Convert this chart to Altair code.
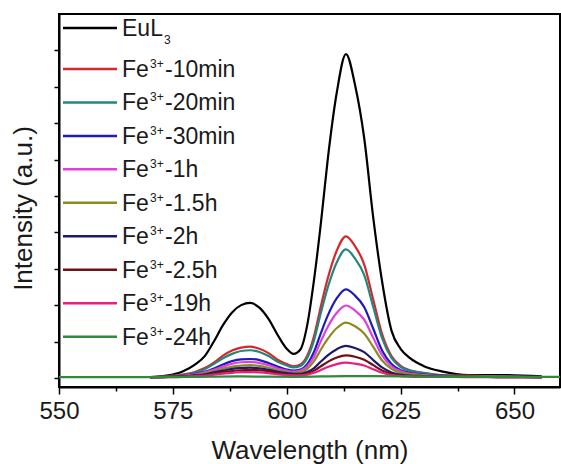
import altair as alt
import pandas as pd

# Shared wavelength grid (nm) for the spectra
WAVE = [570, 574, 577, 580, 582, 584, 586, 588, 590, 592, 594, 596, 598, 600, 601.5, 603,
        604.5, 606, 607.5, 609, 611, 613, 615, 617, 619, 621, 623, 625, 627, 630, 634, 640, 648, 656]

EUL3 = [0.02, 0.07, 0.17, 0.38, 0.60, 1.00, 1.45, 1.80, 2.00, 2.06, 1.93, 1.62, 1.18, 0.80, 0.66, 0.78,
        1.45, 2.70, 4.25, 6.00, 7.85, 8.90, 8.05, 6.60, 4.40, 2.60, 1.30, 0.80, 0.55, 0.33, 0.18, 0.08, 0.08, 0.04]
FE_10MIN = [0.02, 0.05, 0.09, 0.17, 0.27, 0.42, 0.61, 0.75, 0.83, 0.86, 0.80, 0.68, 0.50, 0.38, 0.32, 0.37,
            0.61, 1.15, 1.97, 2.73, 3.50, 3.89, 3.62, 3.12, 2.15, 1.18, 0.60, 0.33, 0.21, 0.14, 0.08, 0.06, 0.04, 0.02]
FE_20MIN = [0.02, 0.04, 0.08, 0.15, 0.24, 0.38, 0.54, 0.66, 0.74, 0.76, 0.71, 0.60, 0.44, 0.34, 0.29, 0.33,
            0.55, 1.04, 1.79, 2.48, 3.18, 3.53, 3.28, 2.83, 1.95, 1.07, 0.55, 0.30, 0.20, 0.13, 0.07, 0.05, 0.04, 0.02]
FE_30MIN = [0.02, 0.03, 0.06, 0.11, 0.17, 0.26, 0.37, 0.46, 0.51, 0.52, 0.49, 0.41, 0.31, 0.23, 0.20, 0.23,
            0.38, 0.72, 1.23, 1.71, 2.19, 2.43, 2.26, 1.95, 1.35, 0.74, 0.38, 0.21, 0.14, 0.09, 0.06, 0.04, 0.03, 0.02]
FE_1H = [0.02, 0.03, 0.05, 0.10, 0.15, 0.22, 0.31, 0.39, 0.43, 0.44, 0.41, 0.35, 0.26, 0.20, 0.17, 0.20,
         0.32, 0.59, 1.01, 1.40, 1.79, 1.99, 1.85, 1.60, 1.10, 0.61, 0.32, 0.18, 0.12, 0.08, 0.05, 0.04, 0.03, 0.02]
FE_1_5H = [0.02, 0.03, 0.05, 0.08, 0.12, 0.18, 0.25, 0.31, 0.34, 0.35, 0.33, 0.28, 0.21, 0.16, 0.14, 0.15,
           0.25, 0.46, 0.78, 1.07, 1.37, 1.52, 1.42, 1.22, 0.85, 0.47, 0.25, 0.14, 0.10, 0.07, 0.04, 0.04, 0.03, 0.02]
FE_2H = [0.02, 0.03, 0.04, 0.07, 0.10, 0.15, 0.20, 0.25, 0.27, 0.28, 0.26, 0.22, 0.17, 0.13, 0.11, 0.11,
         0.16, 0.27, 0.45, 0.62, 0.79, 0.88, 0.82, 0.71, 0.49, 0.28, 0.15, 0.09, 0.06, 0.05, 0.03, 0.03, 0.02, 0.02]
FE_2_5H = [0.02, 0.03, 0.04, 0.06, 0.08, 0.12, 0.16, 0.19, 0.21, 0.22, 0.21, 0.18, 0.13, 0.10, 0.09, 0.09,
           0.12, 0.20, 0.32, 0.44, 0.56, 0.62, 0.58, 0.50, 0.35, 0.20, 0.11, 0.07, 0.05, 0.04, 0.03, 0.03, 0.02, 0.02]
FE_19H = [0.02, 0.02, 0.03, 0.05, 0.06, 0.09, 0.12, 0.14, 0.16, 0.16, 0.15, 0.13, 0.10, 0.08, 0.07, 0.07,
          0.09, 0.14, 0.22, 0.30, 0.38, 0.42, 0.39, 0.34, 0.24, 0.14, 0.08, 0.05, 0.04, 0.03, 0.03, 0.02, 0.02, 0.02]

# The 24 h trace spans the whole range
WAVE_24H = [550, 570, 590, 602, 613, 625, 640, 660]
FE_24H = [0.02, 0.02, 0.04, 0.03, 0.05, 0.04, 0.03, 0.03]

SERIES = ["EuL3", "10min", "20min", "30min", "1h", "1.5h", "2h", "2.5h", "19h", "24h"]
COLORS = ["#000000", "#d8262b", "#23877d", "#1c1cb8", "#e03ee0", "#8c8c1e",
          "#1a1a6e", "#6e1216", "#e81e80", "#2e8b3a"]
LEGEND_BASE = ["EuL", "Fe", "Fe", "Fe", "Fe", "Fe", "Fe", "Fe", "Fe", "Fe"]
LEGEND_SCRIPT = ["3", "3+", "3+", "3+", "3+", "3+", "3+", "3+", "3+", "3+"]
LEGEND_REST = ["", "-10min", "-20min", "-30min", "-1h", "-1.5h", "-2h", "-2.5h", "-19h", "-24h"]

X_TICKS = [550, 562.5, 575, 587.5, 600, 612.5, 625, 637.5, 650]
Y_TICKS = [0, 1, 2, 3, 4, 5, 6, 7, 8, 9]

FONT = "Liberation Sans"

rows = []
spectra = [EUL3, FE_10MIN, FE_20MIN, FE_30MIN, FE_1H, FE_1_5H, FE_2H, FE_2_5H, FE_19H]
for i, vals in enumerate(spectra):
    for w, v in zip(WAVE, vals):
        rows.append({"series": SERIES[i], "wl": w, "v": v})
for w, v in zip(WAVE_24H, FE_24H):
    rows.append({"series": SERIES[9], "wl": w, "v": v})
df = pd.DataFrame(rows)

leg = pd.DataFrame({"series": SERIES, "base": LEGEND_BASE, "script": LEGEND_SCRIPT, "rest": LEGEND_REST})

color = alt.Color("series:N", scale=alt.Scale(domain=SERIES, range=COLORS), legend=None)

lines = alt.Chart(df).mark_line(interpolate="monotone", strokeWidth=2.2).encode(
    x=alt.X("wl:Q", title="Wavelength (nm)",
            scale=alt.Scale(domain=[550, 660], nice=False, zero=False),
            axis=alt.Axis(values=X_TICKS,
                          labelExpr="datum.value % 25 == 0 ? datum.label : ''",
                          tickSize={"condition": {"test": "datum.value % 25 == 0", "value": 7}, "value": 4},
                          labelFlush=False, labelOverlap=False, grid=False,
                          labelFontSize=24, labelPadding=5, titleFontSize=26, titlePadding=14)),
    y=alt.Y("v:Q", title="Intensity (a.u.)",
            scale=alt.Scale(domain=[-0.25, 10], nice=False, zero=False),
            axis=alt.Axis(values=Y_TICKS, labels=False, tickSize=5, grid=False,
                          titleFontSize=26, titlePadding=17, titleY=194)),
    color=color,
    order=alt.Order("wl:Q"),
)

leg_y = alt.Y("series:N", axis=None,
              scale=alt.Scale(type="point", domain=SERIES, range=[21.5, 322.7], padding=0))

base_leg = alt.Chart(leg)
fe = "datum.series != 'EuL3'"
eu = "datum.series == 'EuL3'"

rule_fe = base_leg.transform_filter(fe).mark_rule(strokeWidth=2.5).encode(
    x=alt.value(4), x2=alt.value(58), y=leg_y, color=color)
rule_eu = base_leg.transform_filter(eu).mark_rule(strokeWidth=2.5, yOffset=-7.5).encode(
    x=alt.value(4), x2=alt.value(58), y=leg_y, color=color)

txt = dict(align="left", baseline="middle", font=FONT, color="#1a1a1a")
fe_base = base_leg.transform_filter(fe).mark_text(fontSize=23, dy=1, **txt).encode(
    x=alt.value(63), y=leg_y, text="base:N")
fe_sup = base_leg.transform_filter(fe).mark_text(fontSize=12, dy=-5, **txt).encode(
    x=alt.value(91), y=leg_y, text="script:N")
fe_rest = base_leg.transform_filter(fe).mark_text(fontSize=23, dy=1, **txt).encode(
    x=alt.value(106), y=leg_y, text="rest:N")
eu_base = base_leg.transform_filter(eu).mark_text(fontSize=23, dy=-6.5, **txt).encode(
    x=alt.value(63), y=leg_y, text="base:N")
eu_sub = base_leg.transform_filter(eu).mark_text(fontSize=12, dy=4, **txt).encode(
    x=alt.value(105), y=leg_y, text="script:N")

chart = alt.layer(
    lines, rule_fe, rule_eu, fe_base, fe_sup, fe_rest, eu_base, eu_sub
).resolve_scale(
    y="independent"
).properties(
    width=501, height=373,
    autosize=alt.AutoSizeParams(type="none"),
    padding={"left": 59, "top": 14, "right": 1, "bottom": 77},
    background="white",
).configure_view(
    stroke="black", strokeWidth=2
).configure_axis(
    domainColor="black", domainWidth=2, tickColor="black", tickWidth=1.5,
    labelFont=FONT, titleFont=FONT, labelColor="#1a1a1a", titleColor="#1a1a1a",
    titleFontWeight="normal",
)

chart.save("out.html", embed_options={"renderer": "svg", "actions": False})
